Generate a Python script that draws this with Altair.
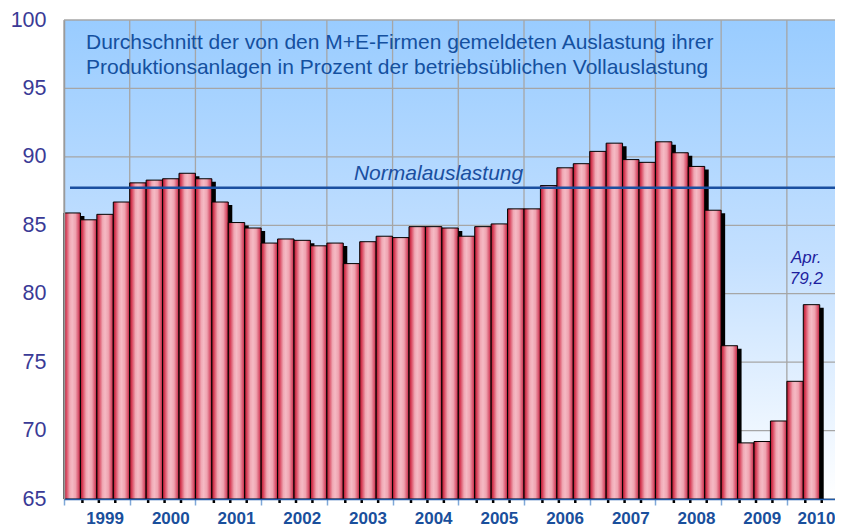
import altair as alt
import pandas as pd

# ---------------- data ----------------
year_labels = [1999, 2000, 2001, 2002, 2003, 2004, 2005, 2006, 2007, 2008, 2009, 2010]
quarter_values = [
    85.9, 85.4, 85.8, 86.7,   # 1999
    88.1, 88.3, 88.4, 88.8,   # 2000
    88.4, 86.7, 85.2, 84.8,   # 2001
    83.7, 84.0, 83.9, 83.5,   # 2002
    83.7, 82.2, 83.8, 84.2,   # 2003
    84.1, 84.9, 84.9, 84.8,   # 2004
    84.2, 84.9, 85.1, 86.2,   # 2005
    86.2, 87.9, 89.2, 89.5,   # 2006
    90.4, 91.0, 89.8, 89.6,   # 2007
    91.1, 90.3, 89.3, 86.1,   # 2008
    76.2, 69.1, 69.2, 70.7,   # 2009
    73.6, 79.2,               # 2010 (Q1, Apr.)
]
y_ticks = [65, 70, 75, 80, 85, 90, 95, 100]
normal_level = 87.75
title_lines = [
    "Durchschnitt der von den M+E-Firmen gemeldeten Auslastung ihrer",
    "Produktionsanlagen in Prozent der betriebsüblichen Vollauslastung",
]
normal_label = "Normalauslastung"
last_label = ["Apr.", f"{quarter_values[-1]:.1f}".replace(".", ",")]

# ---------------- tables ----------------
n = len(quarter_values)
bars = pd.DataFrame({"idx": list(range(n)), "value": quarter_values})
bars["idx2"] = bars["idx"] + 1
year_bounds = pd.DataFrame({"b": [4 * i for i in range(len(year_labels))]})
minor_bounds = pd.DataFrame({"b": [k for k in range(1, n + 1) if k % 4 != 0]})
grid_y = pd.DataFrame({"v": y_ticks})
labels_df = pd.DataFrame({
    "year": [str(y) for y in year_labels],
    "pos": [min(4 * i + 2.5, n - 0.2) for i in range(len(year_labels))],
})
one = pd.DataFrame({"k": [0]})

W, H = 771, 479
FONT = "Liberation Sans"

xscale = alt.Scale(domain=[0, 46.93], nice=False, zero=False)
yscale = alt.Scale(domain=[65, 100], nice=False, zero=False)

x_axis = alt.Axis(values=[4 * i for i in range(len(year_labels))], labels=False,
                  grid=False, title=None, domainColor="#1E5AAA", domainWidth=1.5,
                  tickColor="#7FA8D8", tickSize=6, tickWidth=1.5, zindex=1)
y_axis = alt.Axis(values=y_ticks, grid=False, ticks=False, title=None,
                  labelFontSize=21.5, labelFont=FONT, labelColor="#3A3A96",
                  labelPadding=18, domainColor="#9A9A9A", domainWidth=1.5, zindex=1)

bg_grad = alt.LinearGradient(
    gradient="linear", x1=0, x2=0, y1=0, y2=1,
    stops=[alt.GradientStop(color="#99CCFF", offset=0),
           alt.GradientStop(color="#C4E0FF", offset=0.5),
           alt.GradientStop(color="#FFFFFF", offset=1)],
)
bar_grad = alt.LinearGradient(
    gradient="linear", x1=0, x2=1, y1=0, y2=0,
    stops=[alt.GradientStop(color="#A8182C", offset=0),
           alt.GradientStop(color="#D63C55", offset=0.12),
           alt.GradientStop(color="#F0A8B4", offset=0.35),
           alt.GradientStop(color="#F5BAC4", offset=0.5),
           alt.GradientStop(color="#EFA3B0", offset=0.7),
           alt.GradientStop(color="#D64C66", offset=0.9),
           alt.GradientStop(color="#B02036", offset=1)],
)

background = alt.Chart(one).mark_rect(fill=bg_grad).encode(
    x=alt.value(0), x2=alt.value(W), y=alt.value(0), y2=alt.value(H)
)

hgrid = alt.Chart(grid_y).mark_rule(color="#A6A6A6", strokeWidth=1.3).encode(
    y=alt.Y("v:Q", scale=yscale, axis=y_axis), x=alt.value(0), x2=alt.value(W)
)
vgrid = alt.Chart(year_bounds).mark_rule(color="#A6A6A6", strokeWidth=1.3).encode(
    x=alt.X("b:Q", scale=xscale, axis=x_axis), y=alt.value(0), y2=alt.value(H)
)

shadow = alt.Chart(bars).mark_rect(color="black", xOffset=4, x2Offset=4, yOffset=3).encode(
    x=alt.X("idx:Q", scale=xscale, axis=x_axis), x2="idx2:Q",
    y=alt.Y("value:Q", scale=yscale, axis=y_axis), y2=alt.datum(65)
)
bar_layer = alt.Chart(bars).mark_rect(fill=bar_grad, stroke="black", strokeWidth=1).encode(
    x=alt.X("idx:Q", scale=xscale, axis=x_axis), x2="idx2:Q",
    y=alt.Y("value:Q", scale=yscale, axis=y_axis), y2=alt.datum(65)
)

minor_ticks = alt.Chart(minor_bounds).mark_rule(color="black", strokeWidth=2.5, xOffset=2).encode(
    x=alt.X("b:Q", scale=xscale, axis=x_axis), y=alt.value(H + 1), y2=alt.value(H + 4)
)

normal_line = alt.Chart(one).mark_rule(color="#1A4FA0", strokeWidth=2.5).encode(
    y=alt.datum(normal_level), x=alt.value(6), x2=alt.value(W)
)
normal_text = alt.Chart(one).mark_text(
    text=normal_label, font=FONT, fontSize=21, fontStyle="italic", color="#1A4FA0",
    align="center", baseline="alphabetic", dy=-8,
).encode(x=alt.datum(22.8), y=alt.datum(normal_level))

title_text = alt.Chart(one).mark_text(
    text=title_lines, font=FONT, fontSize=21, color="#1450A0", align="left",
    baseline="alphabetic", lineHeight=25,
).encode(x=alt.value(22), y=alt.value(29))

last_text = alt.Chart(bars.tail(1)).mark_text(
    text=last_label, font=FONT, fontSize=17, fontStyle="italic", color="#1E1E9E",
    align="center", baseline="alphabetic", lineHeight=21, dy=-42, dx=3,
).encode(x=alt.X("idx:Q", scale=xscale, axis=x_axis), y=alt.Y("value:Q", scale=yscale, axis=y_axis))

year_text = alt.Chart(labels_df).mark_text(
    font=FONT, fontSize=17, fontWeight="bold", color="#1A4F9C",
    align="center", baseline="middle",
).encode(x=alt.X("pos:Q", scale=xscale, axis=x_axis), y=alt.value(H + 20), text="year:N")

chart = alt.layer(
    background, hgrid, vgrid, shadow, bar_layer, minor_ticks,
    normal_line, normal_text, title_text, last_text, year_text,
).properties(
    width=W, height=H,
    autosize=alt.AutoSizeParams(type="none"),
    padding={"left": 56, "top": 12, "right": 0, "bottom": 30},
).configure_view(stroke=None)

chart.save("out.html", embed_options={"renderer": "svg", "actions": False})
